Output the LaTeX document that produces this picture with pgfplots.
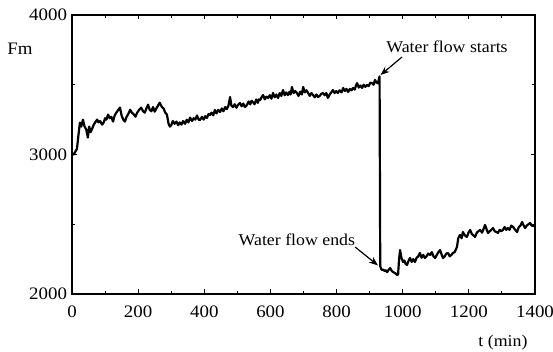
\documentclass[border=0pt]{standalone}
\usepackage{fontspec}
\setmainfont[FakeStretch=1.08]{Liberation Serif}
\usepackage{pgfplots}
\pgfplotsset{compat=1.18}
\usetikzlibrary{arrows.meta}
\newcommand\ff{\fontsize{16.5}{20}\selectfont}
\newcommand\fy{\fontsize{17.5}{21}\selectfont}
\begin{document}
\begin{tikzpicture}
\useasboundingbox (-72pt,-58pt) rectangle (481pt,294pt);
\begin{axis}[
  at={(0,0)}, anchor=south west,
  scale only axis, width=463pt, height=279pt,
  xmin=0, xmax=1400, ymin=2000, ymax=4000,
  xtick={0,200,...,1400}, minor xtick={100,300,...,1300},
  ytick={2000,3000,4000}, minor ytick={2500,3500},
  tick align=inside,
  major tick length=4.5pt, minor tick length=3pt,
  axis line style={line width=1.3pt},
  every tick/.style={black, line width=1pt},
  /pgf/number format/assume math mode=true,
  /pgf/number format/1000 sep={},
  xticklabel style={font=\fy, yshift=-8pt},
  yticklabel style={font=\fy, xshift=-1.5pt},
  clip=false,
]
\addplot[black, line width=2.2pt, line join=round] coordinates {
(0,3010) (5,3000) (10,3020) (15,3040) (20,3150) (24,3229) (28,3200) (33,3250) (38,3200) (43,3180) (48,3121) (52,3200) (56,3160) (60,3179) (65,3210) (70,3230) (76,3250) (80,3230) (85,3240) (91,3214) (96,3230) (100,3260) (104,3250) (109,3286) (114,3260) (119,3270) (124,3236) (129,3280) (134,3300) (140,3320) (145,3336) (150,3280) (155,3250) (160,3236) (165,3270) (170,3290) (176,3321) (181,3300) (186,3290) (192,3271) (197,3300) (203,3320) (209,3336) (215,3310) (220,3300) (225,3330) (230,3357) (235,3320) (240,3310) (245,3340) (250,3307) (255,3330) (260,3350) (265,3371) (272,3340) (277,3330) (282,3300) (287,3286) (292,3220) (296,3200) (300,3210) (305,3240) (310,3220) (316,3236) (321,3210) (326,3230) (331,3214) (336,3240) (342,3220) (347,3250) (352,3230) (357,3264) (363,3240) (368,3260) (373,3250) (378,3280) (383,3250) (387,3247)
(393,3270) (398,3250) (403,3275) (408,3262) (413,3290) (417,3283) (422,3300) (427,3280) (432,3319) (437,3295) (442,3320) (448,3305) (453,3330) (458,3310) (463,3340) (468,3325) (473,3350) (478,3412) (482,3350) (487,3340) (492,3360) (497,3335) (502,3355) (508,3369) (513,3345) (518,3365) (523,3340) (529,3355) (534,3380) (539,3360) (543,3385) (547,3376) (552,3360) (557,3395) (562,3370) (565,3395) (569,3390) (573,3410) (578,3426) (583,3395) (588,3415) (593,3405) (598,3425) (603,3400) (608,3441) (613,3410) (618,3430) (623,3405) (628,3440) (633,3420) (638,3462) (643,3425) (648,3445) (653,3426) (658,3450) (661,3430) (665,3484) (670,3440) (675,3455) (680,3441) (685,3420) (690,3450) (695,3430) (699,3484) (704,3445) (709,3460) (714,3441) (719,3420) (724,3440) (729,3426) (734,3410) (739,3430) (744,3412) (749,3420) (754,3435) (759,3441) (764,3425) (769,3440) (774,3405) (779,3430) (784,3445) (789,3462) (794,3440) (799,3455) (804,3441) (809,3460) (815,3445) (820,3477) (825,3455) (830,3470) (835,3448) (840,3470) (845,3460) (850,3477) (855,3465) (858,3490) (862,3512) (867,3480) (872,3495) (877,3477) (882,3500) (887,3485) (892,3498) (897,3490) (902,3515) (907,3512) (912,3500) (916,3534) (921,3515) (925,3512) (928,3540) (930,3560)
(932,2200) (935,2180) (937,2172) (941,2175) (945,2165) (949,2170) (953,2157) (958,2175) (962,2186) (967,2165) (971,2157) (977,2150) (983,2136) (986,2140) (989,2250) (992,2315) (996,2260) (1001,2229) (1005,2240) (1009,2215) (1013,2208) (1018,2240) (1022,2258) (1027,2230) (1032,2250) (1037,2229) (1042,2260) (1047,2270) (1052,2294) (1057,2260) (1062,2280) (1067,2258) (1072,2270) (1077,2290) (1083,2280) (1088,2300) (1093,2270) (1098,2258) (1103,2280) (1108,2300) (1113,2315) (1118,2280) (1122,2258) (1127,2270) (1132,2290) (1137,2294) (1142,2270) (1147,2280) (1152,2294) (1157,2300) (1164,2337) (1168,2400) (1173,2423) (1178,2400) (1182,2444) (1188,2420) (1194,2409) (1199,2440) (1204,2459) (1209,2430) (1214,2420) (1219,2409) (1224,2440) (1229,2450) (1234,2459) (1240,2440) (1245,2470) (1249,2495) (1254,2460) (1258,2437) (1263,2450) (1268,2460) (1273,2473) (1278,2450) (1283,2445) (1288,2437) (1293,2460) (1298,2450) (1303,2459) (1308,2480) (1313,2460) (1318,2473) (1323,2460) (1328,2490) (1334,2480) (1340,2460) (1346,2444) (1351,2480) (1356,2490) (1361,2516) (1366,2490) (1370,2473) (1375,2490) (1380,2500) (1385,2509) (1390,2490) (1397,2487) (1400,2495)
};
\node[font=\fy] at (axis cs:-157,3760) {Fm};
\node[font=\ff] at (axis cs:1303,1655) {t (min)};
\node[font=\ff] at (axis cs:1134,3770) {Water flow starts};
\draw[-{Stealth[length=9pt,width=7pt]}, line width=1.2pt] (axis cs:998,3699) -- (axis cs:933,3570);
\node[font=\ff] at (axis cs:680,2387) {Water flow ends};
\draw[-{Stealth[length=9pt,width=7pt]}, line width=1.2pt] (axis cs:856,2337) -- (axis cs:925,2205);
\end{axis}
\end{tikzpicture}
\end{document}
